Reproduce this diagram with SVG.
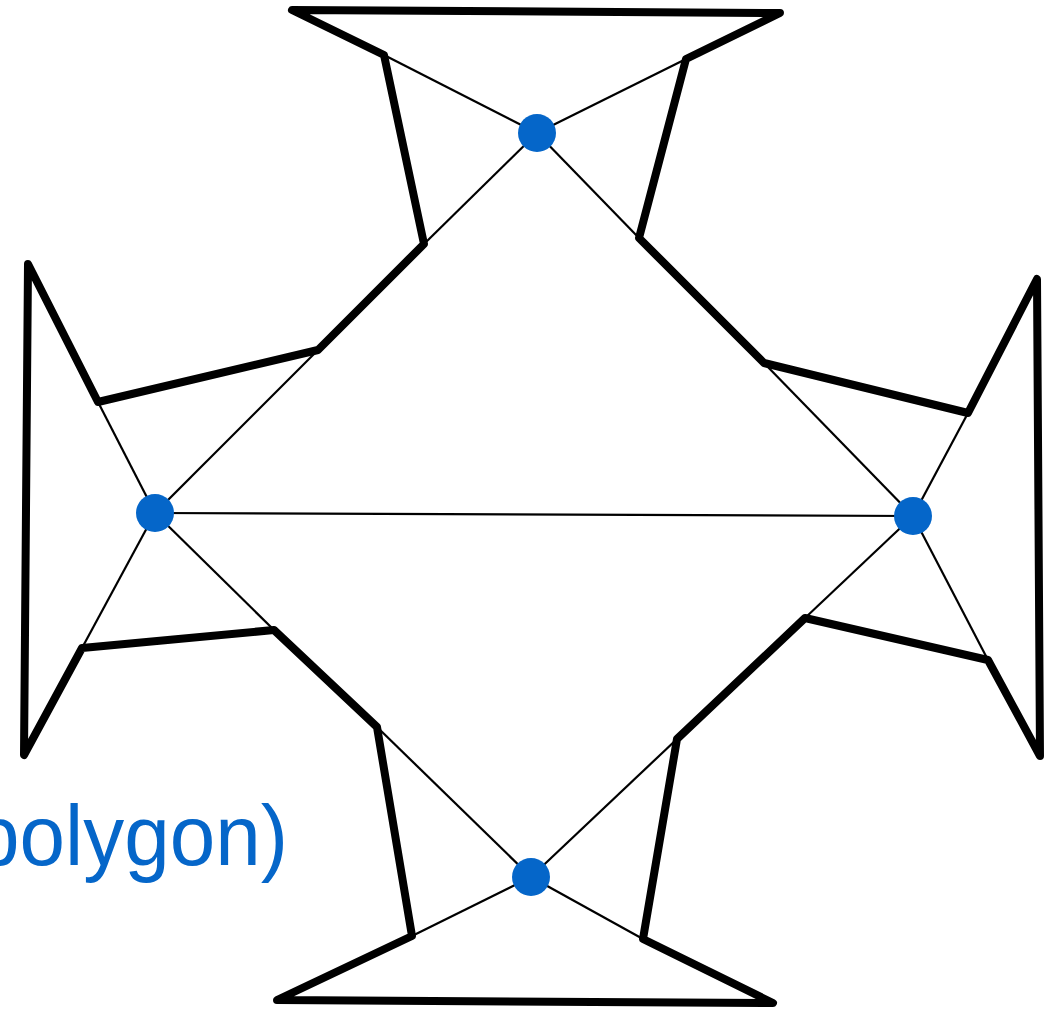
<svg xmlns="http://www.w3.org/2000/svg" width="1050" height="1016" viewBox="0 0 1050 1016">
<style>
.poly{fill:none;stroke:#000;stroke-width:8;stroke-linejoin:round;stroke-linecap:round}
.edge{stroke:#000;stroke-width:2.2;fill:none}
.dot{fill:#0566c9}
.lbl{font-family:"Liberation Sans",Arial,sans-serif;font-size:85px;fill:#0566c9}
</style>
<rect width="1050" height="1016" fill="#fff"/>
<g id="outline">
<polygon class="poly" points="292,10 780,13 686,59 639,238 764,363 968,413 1037,279 1040,756 988,660 805,618 677,739 643,939 773,1003 277,1000 412,936 377,727 274,630 82,648 24,755 28,264 98,402 318,350 424,244 384,55"/>
</g>
<g id="connectors">
<line class="edge" x1="537" y1="133" x2="384" y2="55"/>
<line class="edge" x1="537" y1="133" x2="686" y2="59"/>
<line class="edge" x1="537" y1="133" x2="424" y2="244"/>
<line class="edge" x1="537" y1="133" x2="639" y2="238"/>
<line class="edge" x1="155" y1="513" x2="98" y2="402"/>
<line class="edge" x1="155" y1="513" x2="318" y2="350"/>
<line class="edge" x1="155" y1="513" x2="82" y2="648"/>
<line class="edge" x1="155" y1="513" x2="274" y2="630"/>
<line class="edge" x1="155" y1="513" x2="913" y2="516"/>
<line class="edge" x1="913" y1="516" x2="764" y2="363"/>
<line class="edge" x1="913" y1="516" x2="968" y2="413"/>
<line class="edge" x1="913" y1="516" x2="805" y2="618"/>
<line class="edge" x1="913" y1="516" x2="988" y2="660"/>
<line class="edge" x1="531" y1="877" x2="377" y2="727"/>
<line class="edge" x1="531" y1="877" x2="677" y2="739"/>
<line class="edge" x1="531" y1="877" x2="412" y2="936"/>
<line class="edge" x1="531" y1="877" x2="643" y2="939"/>
</g>
<g id="node-top"><circle class="dot" cx="537" cy="133" r="19"/></g>
<g id="node-left"><circle class="dot" cx="155" cy="513" r="19"/></g>
<g id="node-right"><circle class="dot" cx="913" cy="516" r="19"/></g>
<g id="node-bottom"><circle class="dot" cx="531" cy="877" r="19"/></g>
<g id="label"><text class="lbl" x="-26" y="865" textLength="314" lengthAdjust="spacingAndGlyphs">polygon)</text></g>
</svg>
